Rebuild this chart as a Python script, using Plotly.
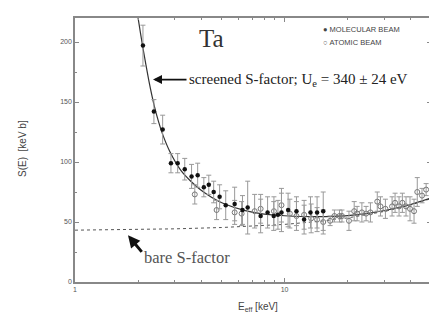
import plotly.graph_objects as go

# Molecular beam (filled circles)
mol_E = [2.11, 2.38, 2.62, 2.87, 3.09, 3.34, 3.6, 3.85, 4.12, 4.35, 4.59, 4.9, 5.24, 5.78, 6.3,
         6.67, 7.69, 8.3, 8.88, 9.3, 9.67, 10.4, 11.4, 12.4, 13.3, 14.3, 15.3]
mol_S = [197, 142, 127, 99, 99, 94, 88, 89, 79, 81, 75, 71, 64, 65, 60,
         62, 55, 58, 55, 56, 58, 60, 59, 52, 58, 58, 59]
mol_err = [17, 10, 12, 8, 8, 9, 10, 10, 8, 8, 9, 10, 12, 14, 12,
           22, 14, 13, 12, 12, 16, 14, 12, 12, 13, 13, 16]

# Atomic beam (open circles)
atom_E = [3.73, 4.74, 5.78, 6.24, 7.2, 7.69, 8.9, 9.67, 10.6, 11.4, 12.4, 13.4, 14.3, 15.3,
          16.5, 17.3, 18.3, 18.8, 20.3, 21.5, 22.2, 23.4, 24.5, 25.7, 27.7, 28.7, 30.3,
          32.6, 33.7, 35.2, 36.5, 38.0, 39.7, 41.5, 43.0, 45.3, 47.4]
atom_S = [73, 60, 58, 57, 59, 61, 59, 64, 57, 55, 56, 53, 52, 50,
          51, 55, 55, 55, 51, 59, 57, 58, 57, 58, 67, 63, 61,
          63, 66, 63, 66, 63, 61, 59, 75, 72, 77]
atom_err = [8, 8, 10, 10, 14, 12, 12, 14, 12, 12, 12, 12, 10, 10,
            4, 5, 5, 5, 8, 8, 6, 8, 6, 8, 8, 8, 8,
            8, 8, 8, 8, 8, 10, 10, 12, 6, 5]

# Screened S-factor fit
scr_E = [1.9, 2.0, 2.11, 2.25, 2.38, 2.5, 2.62, 2.83, 3.2, 3.57, 4.0, 4.5, 5.18, 6.5, 8, 10,
         12, 14.3, 17, 20, 25, 30, 40, 50]
scr_S = [246, 220, 195, 168, 148, 134, 123, 109, 93, 84, 76.5, 70.5, 65, 59.5, 56.5, 55.2,
         54.6, 54.5, 54.7, 55.3, 57.2, 59.6, 64.6, 70]

# Bare S-factor
bare_E = [1, 2, 3, 5, 7, 10, 15, 20, 30, 40, 50]
bare_S = [43.2, 43.7, 44.3, 45.4, 46.4, 48.0, 50.7, 53.4, 58.8, 64.1, 69.5]

y_ticks = [0, 50, 100, 150, 200]
x_ticks = [1, 10]

fig = go.Figure()

fig.add_trace(go.Scatter(x=bare_E, y=bare_S, mode="lines",
                         line=dict(color="#555555", width=1, dash="dot"),
                         hoverinfo="skip"))
fig.add_trace(go.Scatter(x=scr_E, y=scr_S, mode="lines",
                         line=dict(color="#333333", width=1.2, shape="spline", smoothing=0.6),
                         hoverinfo="skip"))
fig.add_trace(go.Scatter(x=atom_E, y=atom_S, mode="markers",
                         marker=dict(symbol="circle-open", size=5, color="#777777",
                                     line=dict(width=1, color="#777777")),
                         error_y=dict(type="data", array=atom_err, color="#999999",
                                      thickness=1, width=2.5)))
fig.add_trace(go.Scatter(x=mol_E, y=mol_S, mode="markers",
                         marker=dict(symbol="circle", size=4.5, color="#111111"),
                         error_y=dict(type="data", array=mol_err, color="#999999",
                                      thickness=1, width=2.5)))

axis_common = dict(showline=True, linecolor="#888888", linewidth=1.5, mirror="ticks",
                   ticks="inside", tickcolor="#888888", ticklen=4, showgrid=False,
                   zeroline=False, tickfont=dict(family="Arial", size=7, color="#555555"))

fig.update_xaxes(type="log", range=[0, 1.699], tickvals=x_ticks,
                 ticktext=[str(v) for v in x_ticks],
                 minor=dict(ticks="inside", ticklen=2.5, tickcolor="#888888",
                            tickvals=[2, 3, 4, 5, 6, 7, 8, 9, 20, 30, 40, 50]),
                 **axis_common)
fig.update_yaxes(range=[0, 220], tickvals=y_ticks, ticktext=[str(v) for v in y_ticks],
                 minor=dict(ticks="inside", ticklen=2.5, tickcolor="#888888",
                            tickvals=[25, 75, 125, 175]),
                 **axis_common)

W, H = 437, 313
L, R, T, B = 67, 14, 8, 39
pw, ph = W - L - R, H - T - B


def px2paper(x, y):
    return (x - L) / pw, (H - B - y) / ph


serif = "Liberation Serif"


def text_at(px, py, text, font, xanchor="center", angle=0):
    x, y = px2paper(px, py)
    fig.add_annotation(x=x, y=y, xref="paper", yref="paper", text=text, showarrow=False,
                       xanchor=xanchor, yanchor="middle", textangle=angle, font=font,
                       borderpad=0)


text_at(14, 140, "S(E)  [keV b]", dict(family="Arial", size=10, color="#444444"), angle=-90)
text_at(250, 299, "E<sub>eff</sub> [keV]", dict(family="Arial", size=10, color="#444444"))
text_at(203, 29, "Ta", dict(family=serif, size=25, color="#333333"))
text_at(180, 70, "screened S-factor; U<sub>e</sub> = 340 ± 24 eV",
        dict(family=serif, size=15, color="#222222"), xanchor="left")
text_at(135, 249, "bare S-factor", dict(family=serif, size=16.5, color="#555555"), xanchor="left")
text_at(314, 20, "●&nbsp;MOLECULAR BEAM", dict(family="Arial", size=7.5, color="#444444"),
        xanchor="left")
text_at(314, 33, "○&nbsp;ATOMIC BEAM", dict(family="Arial", size=7.5, color="#444444"),
        xanchor="left")


def arrow(hx, hy, tx, ty, width, size):
    x, y = px2paper(hx, hy)
    fig.add_annotation(x=x, y=y, xref="paper", yref="paper", ax=tx - hx, ay=ty - hy,
                       axref="pixel", ayref="pixel", text="", showarrow=True,
                       arrowhead=2, arrowsize=size, arrowwidth=width, arrowcolor="#111111")


arrow(145, 70, 180, 70, 1.8, 1)
arrow(120, 227, 135, 245, 3, 0.8)

fig.update_layout(width=W, height=H, margin=dict(l=L, r=R, t=T, b=B),
                  paper_bgcolor="white", plot_bgcolor="white", showlegend=False)

fig.write_html("out.html")
